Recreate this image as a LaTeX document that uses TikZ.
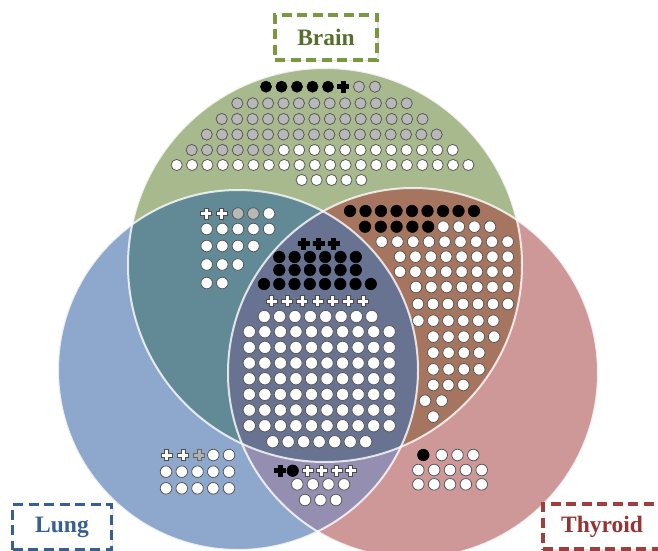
\documentclass[tikz,border=0pt]{standalone}
\usepackage{fontspec}
\setmainfont{Liberation Serif}
\usetikzlibrary{shadows}
\definecolor{brainFill}{RGB}{169,185,142}
\definecolor{lungFill}{RGB}{141,168,204}
\definecolor{thyroidFill}{RGB}{206,152,152}
\definecolor{brainLungFill}{RGB}{98,138,150}
\definecolor{brainThyroidFill}{RGB}{165,117,95}
\definecolor{lungThyroidFill}{RGB}{148,142,177}
\definecolor{allFill}{RGB}{104,114,145}
\definecolor{brainText}{RGB}{88,110,45}
\definecolor{brainLine}{RGB}{122,152,62}
\definecolor{lungText}{RGB}{55,95,150}
\definecolor{thyroidText}{RGB}{150,50,50}
\definecolor{thyroidLine}{RGB}{160,62,62}
\newcommand\brainCircle{(325,265) circle[radius=197]}
\newcommand\lungCircle{(238,370) circle[radius=180]}
\newcommand\thyroidCircle{(413,373) circle[radius=185]}

\begin{document}
\begin{tikzpicture}[
        x=1pt, y=-1pt,
        tag/.style n args={2}{rectangle, draw=#1, text=#2, fill=white, line width=3.2pt,
            dash pattern=on 10pt off 5.5pt, minimum height=45pt, inner sep=0pt,
            font=\fontsize{23.5}{26}\selectfont\bfseries,
            drop shadow={opacity=0.2, shadow xshift=1.5pt, shadow yshift=-1.5pt}},
        rim/.style={draw=white, line width=2pt, draw opacity=0.8},
        wdot/.style={fill=white, draw=black!65, line width=0.8pt},
        gdot/.style={fill=black!28, draw=black!65, line width=0.8pt},
        bdot/.style={fill=black, draw=black, line width=0.5pt},
        wplus/.pic={\filldraw[fill=white, draw=black!70, line width=0.7pt]
            (-5.5,-2) -- (-2,-2) -- (-2,-5.5) -- (2,-5.5) -- (2,-2) -- (5.5,-2)
            -- (5.5,2) -- (2,2) -- (2,5.5) -- (-2,5.5) -- (-2,2) -- (-5.5,2) -- cycle;},
        gplus/.pic={\filldraw[fill=black!30, draw=black!60, line width=0.7pt]
            (-5.5,-2) -- (-2,-2) -- (-2,-5.5) -- (2,-5.5) -- (2,-2) -- (5.5,-2)
            -- (5.5,2) -- (2,2) -- (2,5.5) -- (-2,5.5) -- (-2,2) -- (-5.5,2) -- cycle;},
        bplus/.pic={\filldraw[fill=black, draw=black, line width=0.5pt]
            (-5.5,-2) -- (-2,-2) -- (-2,-5.5) -- (2,-5.5) -- (2,-2) -- (5.5,-2)
            -- (5.5,2) -- (2,2) -- (2,5.5) -- (-2,5.5) -- (-2,2) -- (-5.5,2) -- cycle;}
    ]
        \fill[white] (0,0) rectangle (658,551);
        \useasboundingbox (0,0) rectangle (658,551);

        % Circles
        \fill[brainFill] \brainCircle;
        \fill[lungFill] \lungCircle;
        \fill[thyroidFill] \thyroidCircle;
        \begin{scope}
            \clip \brainCircle;
            \fill[brainLungFill] \lungCircle;
            \fill[brainThyroidFill] \thyroidCircle;
        \end{scope}
        \begin{scope}
            \clip \lungCircle;
            \fill[lungThyroidFill] \thyroidCircle;
        \end{scope}
        \begin{scope}
            \clip \brainCircle;
            \clip \lungCircle;
            \fill[allFill] \thyroidCircle;
        \end{scope}
        \draw[rim] \brainCircle;
        \draw[rim] \lungCircle;
        \draw[rim] \thyroidCircle;

        % Brain only
        \foreach \i in {0,...,4} \filldraw[bdot] ({266+15.5*\i},86.7) circle[radius=5.6];
        \pic at (343,86.7) {bplus};
        \foreach \x in {359,375} \filldraw[gdot] (\x,86.7) circle[radius=5.6];
        \foreach \i in {0,...,11} \filldraw[gdot] ({237.3+15.4*\i},103.3) circle[radius=5.6];
        \foreach \i in {0,...,13} \filldraw[gdot] ({221.7+15.45*\i},119) circle[radius=5.6];
        \foreach \i in {0,...,15} \filldraw[gdot] ({206.7+15.33*\i},134.5) circle[radius=5.6];
        \foreach \i in {0,...,5} \filldraw[gdot] ({191.7+15.35*\i},150) circle[radius=5.6];
        \foreach \i in {6,...,17} \filldraw[wdot] ({191.7+15.35*\i},150) circle[radius=5.6];
        \foreach \i in {0,...,19} \filldraw[wdot] ({176.7+15.35*\i},165) circle[radius=5.6];
        \foreach \i in {0,...,4} \filldraw[wdot] ({301.7+14.9*\i},180) circle[radius=5.6];

        % Brain and Lung
        \foreach \x in {206,221.7} \pic at (\x,213.5) {wplus};
        \foreach \x in {238,253.3} \filldraw[gdot] (\x,213.5) circle[radius=5.8];
        \filldraw[wdot] (269,213.5) circle[radius=5.8];
        \foreach \i in {0,...,4} \filldraw[wdot] ({206.7+15.6*\i},229) circle[radius=5.8];
        \foreach \i in {0,...,3} \filldraw[wdot] ({206.7+15.6*\i},246) circle[radius=5.8];
        \foreach \i in {0,...,2} \filldraw[wdot] ({206.7+15.6*\i},264.5) circle[radius=5.8];
        \foreach \i in {0,...,1} \filldraw[wdot] ({206.7+15.6*\i},283) circle[radius=5.8];

        % Brain, Lung and Thyroid
        \foreach \x in {303.3,318.3,333.3} \pic at (\x,243.5) {bplus};
        \foreach \y in {257,270}
            \foreach \i in {0,...,5} \filldraw[bdot] ({279.3+15.3*\i},\y) circle[radius=5.8];
        \foreach \i in {0,...,7} \filldraw[bdot] ({264+15.25*\i},284) circle[radius=5.8];
        \foreach \i in {0,...,6} \pic at ({271.7+15.27*\i},301) {wplus};
        \foreach \i in {0,...,7} \filldraw[wdot] ({264.3+15.35*\i},316.5) circle[radius=6.2];
        \foreach \j in {0,...,6}
            \foreach \i in {0,...,9} \filldraw[wdot] ({249.3+15.55*\i},{331.7+15.67*\j}) circle[radius=6.2];
        \foreach \i in {0,...,6} \filldraw[wdot] ({272.7+15.5*\i},441.7) circle[radius=6.2];

        % Brain and Thyroid
        \foreach \i in {0,...,8} \filldraw[bdot] ({350+15.5*\i},211) circle[radius=5.8];
        \foreach \i in {0,...,4} \filldraw[bdot] ({365+15.8*\i},226.7) circle[radius=5.8];
        \foreach \i in {0,...,3} \filldraw[wdot] ({443.3+15.57*\i},226.7) circle[radius=5.8];
        \foreach \i in {0,...,8} \filldraw[wdot] ({381.7+15.75*\i},241.7) circle[radius=5.8];
        \foreach \y in {256.7,271.7}
            \foreach \i in {0,...,7} \filldraw[wdot] ({400+15.4*\i},\y) circle[radius=5.8];
        \foreach \i in {0,...,6} \filldraw[wdot] ({416+15.3*\i},287) circle[radius=5.8];
        \foreach \i in {0,...,6} \filldraw[wdot] ({418+15*\i},304) circle[radius=5.8];
        \foreach \i in {0,...,5} \filldraw[wdot] ({418.3+15*\i},320.7) circle[radius=5.8];
        \foreach \i in {0,...,4} \filldraw[wdot] ({433.3+15.2*\i},336.7) circle[radius=5.8];
        \foreach \y in {352.7,369.3}
            \foreach \i in {0,...,3} \filldraw[wdot] ({433.3+15.3*\i},\y) circle[radius=5.8];
        \foreach \i in {0,...,2} \filldraw[wdot] ({433.3+15*\i},385) circle[radius=5.8];
        \foreach \x in {425,441.7} \filldraw[wdot] (\x,400.7) circle[radius=5.8];
        \filldraw[wdot] (433.3,416.7) circle[radius=5.8];

        % Lung only
        \foreach \x in {166.7,183.3} \pic at (\x,455) {wplus};
        \pic at (199.3,455) {gplus};
        \foreach \x in {213.3,229} \filldraw[wdot] (\x,455) circle[radius=5.8];
        \foreach \y in {471.7,488.3}
            \foreach \i in {0,...,4} \filldraw[wdot] ({166+15.75*\i},\y) circle[radius=5.8];

        % Lung and Thyroid
        \pic at (280,470.7) {bplus};
        \filldraw[bdot] (292.7,470.7) circle[radius=5.8];
        \foreach \x in {307.7,321.7,336.7,350.7} \pic at (\x,470.7) {wplus};
        \foreach \i in {0,...,3} \filldraw[wdot] ({297.3+15.57*\i},484.3) circle[radius=5.8];
        \foreach \i in {0,...,2} \filldraw[wdot] ({305+15.5*\i},500) circle[radius=5.8];

        % Thyroid only
        \filldraw[bdot] (423.3,455) circle[radius=5.8];
        \foreach \i in {0,...,2} \filldraw[wdot] ({441.7+15.8*\i},455) circle[radius=5.8];
        \foreach \y in {470,484.3}
            \foreach \i in {0,...,4} \filldraw[wdot] ({418.3+15.85*\i},\y) circle[radius=5.8];

        % Labels
        \node[tag={brainLine}{brainText}, minimum width=102pt] (brainlabel) at (326,37.5) {Brain};
        \node[tag={lungText}{lungText}, minimum width=99pt] (lunglabel) at (62,527) {Lung};
        \node[tag={thyroidLine}{thyroidText}, minimum width=118pt] (thyroidlabel) at (602,526.5) {Thyroid};
    \end{tikzpicture}
\end{document}
